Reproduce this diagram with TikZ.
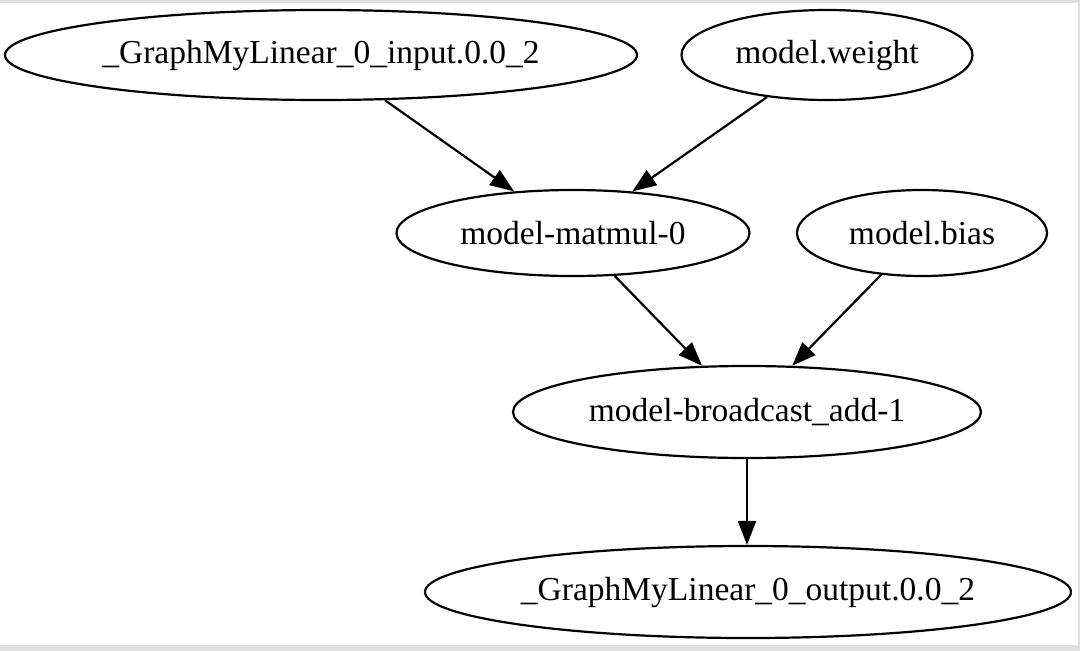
\documentclass[tikz,border=0pt]{standalone}
\usepackage{fontspec}
\setmainfont{Liberation Serif}
\usetikzlibrary{arrows.meta,shapes.geometric}
\tikzset{
  gnode/.style={draw, ellipse, line width=2.2pt, inner sep=0pt,
    font=\fontsize{33.5}{40}\selectfont},
  gedge/.style={line width=2.2pt, -{Triangle[length=24pt,width=18pt]}}
}
\begin{document}
\begin{tikzpicture}[x=1pt,y=-1pt]
\useasboundingbox (0,0) rectangle (1080,651);
\fill[white] (0,0) rectangle (1080,651);
\fill[black!12] (0,0) rectangle (1080,3);
\fill[black!12] (0,645) rectangle (1080,651);
\fill[black!12] (1078,0) rectangle (1080,651);
\node[gnode, minimum width=632pt, minimum height=90pt] (in) at (321,55) {\_GraphMyLinear\_0\_input.0.0\_2};
\node[gnode, minimum width=291pt, minimum height=90pt] (w) at (827,55) {model.weight};
\node[gnode, minimum width=353pt, minimum height=86pt] (mm) at (573,233) {model-matmul-0};
\node[gnode, minimum width=250pt, minimum height=86pt] (b) at (922,233) {model.bias};
\node[gnode, minimum width=468pt, minimum height=92pt] (add) at (747,412) {model-broadcast\_add-1};
\node[gnode, minimum width=646pt, minimum height=92pt] (out) at (748,592) {\_GraphMyLinear\_0\_output.0.0\_2};
\draw[gedge] (in) -- (mm);
\draw[gedge] (w) -- (mm);
\draw[gedge] (mm) -- (add);
\draw[gedge] (b) -- (add);
\draw[gedge] (add.south) -- (add.south |- out.north);
\end{tikzpicture}
\end{document}
